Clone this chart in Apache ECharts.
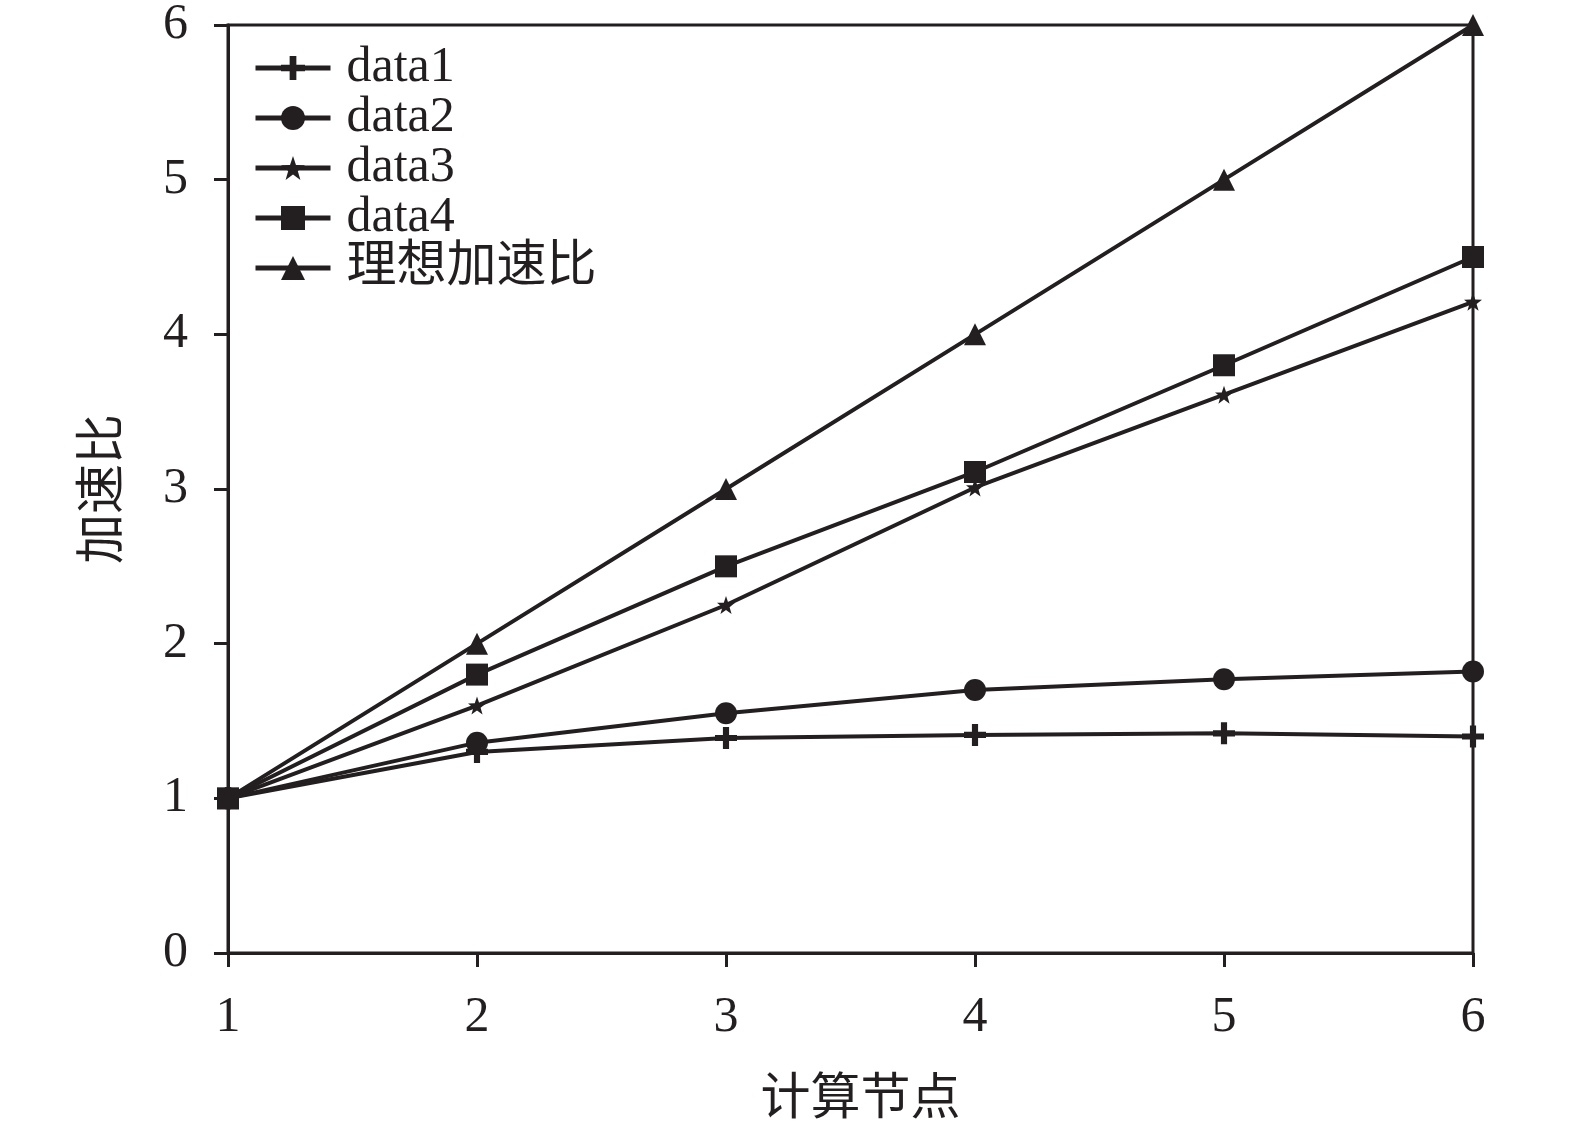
<!DOCTYPE html>
<html lang="zh">
<head>
  <meta charset="UTF-8" />
  <title>加速比</title>
  <style>
    * { padding: 0; margin: 0; }
    html, body { width: 100%; height: 100%; background: #fff; overflow: hidden; }
    #chart { width: 100%; height: 100%; }
  </style>
</head>
<body>
  <div id="chart"></div>
  <script src="https://cdn.jsdelivr.net/npm/echarts@6/dist/echarts.min.js"></script>
  <script>
    // 计算节点
    var nodes = [1, 2, 3, 4, 5, 6]
    var seriesNames = ['data1', 'data2', 'data3', 'data4', '理想加速比']
    var data1 = [1, 1.30, 1.39, 1.41, 1.42, 1.40]
    var data2 = [1, 1.36, 1.55, 1.70, 1.77, 1.82]
    var data3 = [1, 1.60, 2.25, 3.01, 3.61, 4.21]
    var data4 = [1, 1.80, 2.50, 3.11, 3.80, 4.50]
    var ideal = [1, 2, 3, 4, 5, 6]

    var ink = '#231f20'
    var font = '"Liberation Serif", "Times New Roman", "Noto Sans CJK SC", serif'
    var plus = 'path://M-1.4,-5H1.4V-1.4H5V1.4H1.4V5H-1.4V1.4H-5V-1.4H-1.4Z'
    var star = 'path://M0,-5L1.18,-1.62L4.76,-1.55L1.9,0.62L2.94,4.05L0,2L-2.94,4.05L-1.9,0.62L-4.76,-1.55L-1.18,-1.62Z'

    var allData = [data1, data2, data3, data4, ideal]
    var symbols = [plus, 'circle', star, 'rect', 'triangle']
    var sizes = [22, 22, 18, 22, 22]

    var series = allData.map(function (vals, i) {
      return {
        name: seriesNames[i],
        type: 'line',
        data: vals.map(function (v, k) { return [nodes[k], v] }),
        symbol: symbols[i],
        symbolSize: sizes[i],
        showAllSymbol: true,
        lineStyle: { color: ink, width: 4 },
        itemStyle: { color: ink, borderWidth: 0 },
        emphasis: { disabled: true },
        clip: false
      }
    })

    var myChart = echarts.init(document.getElementById('chart'))
    var option = {
      animation: false,
      grid: {
        left: 228, right: 102, top: 25, bottom: 169,
        outerBoundsMode: 'none',
        show: true, borderColor: ink, borderWidth: 3, backgroundColor: 'transparent'
      },
      legend: {
        orient: 'vertical',
        left: 248,
        top: 38,
        itemWidth: 75,
        itemHeight: 30,
        itemGap: 0,
        lineStyle: { width: 5 },
        textStyle: { fontFamily: font, fontSize: 50, lineHeight: 48.5, color: ink, padding: [0, 0, 0, 11] },
        data: seriesNames
      },
      xAxis: {
        type: 'value',
        min: 1, max: 6, interval: 1,
        name: '计算节点',
        nameLocation: 'middle',
        nameGap: 123,
        nameTextStyle: { fontFamily: font, fontSize: 50, color: ink, padding: [0, 0, 0, 20] },
        axisLine: { lineStyle: { color: ink, width: 3 } },
        axisTick: { show: true, length: 14, lineStyle: { color: ink, width: 3 } },
        axisLabel: { fontFamily: font, fontSize: 50, color: ink, margin: 40 },
        splitLine: { show: false }
      },
      yAxis: {
        type: 'value',
        min: 0, max: 6, interval: 1,
        name: '加速比',
        nameLocation: 'middle',
        nameGap: 98,
        nameTextStyle: { fontFamily: font, fontSize: 50, color: ink },
        axisLine: { show: true, lineStyle: { color: ink, width: 3 } },
        axisTick: { show: true, length: 14, lineStyle: { color: ink, width: 3 } },
        axisLabel: { fontFamily: font, fontSize: 50, color: ink, margin: 40 },
        splitLine: { show: false }
      },
      series: series
    }
    myChart.setOption(option)
  </script>
</body>
</html>
